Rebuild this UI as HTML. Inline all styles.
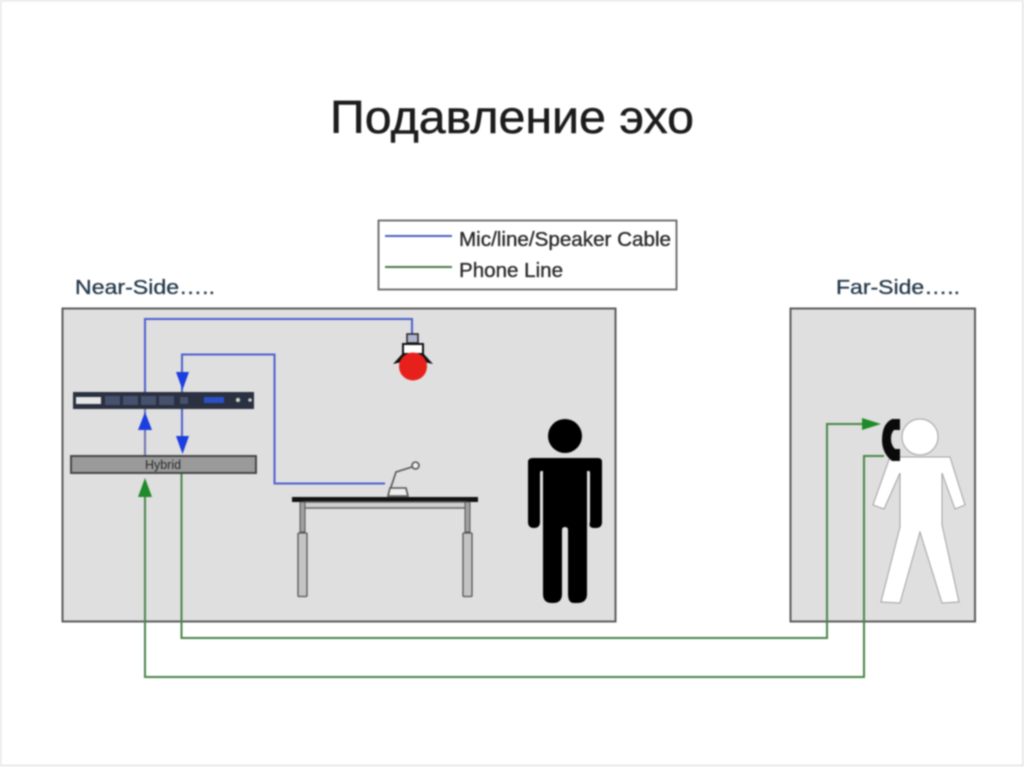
<!DOCTYPE html>
<html><head><meta charset="utf-8">
<style>
html,body{margin:0;padding:0;background:#fff;width:1024px;height:767px;overflow:hidden}
svg{display:block;filter:blur(0.7px)}
text{font-family:"Liberation Sans",sans-serif}
</style></head><body>
<svg width="1024" height="767" viewBox="0 0 1024 767" xmlns="http://www.w3.org/2000/svg">
<rect x="0" y="0" width="1024" height="767" fill="#fff"/>
<rect x="0.5" y="0.5" width="1022.5" height="765" fill="none" stroke="#e2e2e2" stroke-width="1.5"/>
<text x="330" y="133" font-size="46" textLength="364" lengthAdjust="spacingAndGlyphs" fill="#1c1c1c" stroke="#1c1c1c" stroke-width="0.5">Подавление эхо</text>

<!-- legend -->
<rect x="378.500" y="220.500" width="298" height="69" fill="#fff" stroke="#666" stroke-width="1.800"/>
<line x1="385" y1="236" x2="452" y2="236" stroke="#5060c0" stroke-width="2"/>
<line x1="385" y1="267" x2="452" y2="267" stroke="#4a7a4a" stroke-width="2"/>
<text x="459" y="246" font-size="20" textLength="212" lengthAdjust="spacingAndGlyphs" fill="#2a2a2a" stroke="#2a2a2a" stroke-width="0.35">Mic/line/Speaker Cable</text>
<text x="459" y="277" font-size="20" textLength="104" lengthAdjust="spacingAndGlyphs" fill="#2a2a2a" stroke="#2a2a2a" stroke-width="0.35">Phone Line</text>

<text x="75" y="294" font-size="20.500" textLength="140" lengthAdjust="spacingAndGlyphs" fill="#24394a" stroke="#24394a" stroke-width="0.3">Near-Side…..</text>
<text x="836" y="294" font-size="20.500" textLength="124" lengthAdjust="spacingAndGlyphs" fill="#24394a" stroke="#24394a" stroke-width="0.3">Far-Side…..</text>

<!-- rooms -->
<rect x="62.500" y="308.500" width="553" height="313" fill="#dfdfdf" stroke="#5c5c5c" stroke-width="2"/>
<rect x="790.500" y="308.500" width="184.500" height="313" fill="#dfdfdf" stroke="#5c5c5c" stroke-width="2"/>

<!-- blue cables -->
<g fill="none" stroke="#4c60cc" stroke-width="2">
<path d="M145 456V319H412V336"/>
<path d="M385 483.500H274.500V354.500H182V392"/>
<path d="M182 408V440"/>
<path d="M145 408V456" stroke="#6b74b0"/>
</g>
<!-- green cables -->
<g fill="none" stroke="#4a854a" stroke-width="2">
<path d="M181.500 474V638H827V424H866"/>
<path d="M145 492V677H864V456H884"/>
</g>

<!-- rack -->
<rect x="73" y="392" width="181" height="17" fill="#2a3140"/>
<rect x="76" y="397" width="25" height="7" fill="#e6e6e6"/>
<g fill="#46516e">
<rect x="105" y="396" width="15" height="9"/>
<rect x="123" y="396" width="15" height="9"/>
<rect x="141" y="396" width="15" height="9"/>
<rect x="159" y="396" width="15" height="9"/>
<rect x="180" y="397" width="8" height="7"/>
</g>
<rect x="204" y="397" width="20" height="6" fill="#2b50c8"/>
<circle cx="238" cy="400" r="2.200" fill="#ccc"/>
<circle cx="250" cy="400" r="1.800" fill="#ccc"/>

<!-- hybrid -->
<rect x="71" y="456" width="185" height="17" fill="#9a9a9a" stroke="#3c3c3c" stroke-width="1.800"/>
<text x="163" y="469" font-size="12.500" text-anchor="middle" fill="#2a2a2a">Hybrid</text>

<!-- arrowheads -->
<polygon points="176,372 189,372 182.500,390" fill="#1c3ee0"/>
<polygon points="176,436 189,436 182.500,454" fill="#1c3ee0"/>
<polygon points="145,412 138,430 152,430" fill="#1c3ee0"/>
<polygon points="145,478 138,497 152,497" fill="#1f8a2a"/>
<polygon points="881,424 862,418 862,430" fill="#1f8a2a"/>

<!-- speaker -->
<rect x="407" y="334" width="11" height="9" fill="#b0b4cc" stroke="#222" stroke-width="1.500"/>
<rect x="403" y="344" width="20" height="10" fill="#fff" stroke="#111" stroke-width="2"/>
<path d="M393 364L403 353H423L433 364L424 362H402Z" fill="#111"/>
<circle cx="413" cy="366.500" r="14" fill="#e8201c"/>

<!-- microphone -->
<g fill="none" stroke="#555" stroke-width="1.600">
<circle cx="415.500" cy="465.500" r="3.500" fill="#eee"/>
<path d="M412 467L396 472L391 487L388 496"/>
<path d="M388 496L390 488H406L408 496Z" fill="#eee"/>
</g>

<!-- table -->
<rect x="292" y="497" width="186" height="5" fill="#111"/>
<rect x="304" y="502" width="162" height="6" fill="#cfcfcf" stroke="#666" stroke-width="1.500"/>
<rect x="300" y="502" width="5" height="30" fill="#a0a0a0" stroke="#555" stroke-width="1"/>
<rect x="465" y="502" width="5" height="30" fill="#a0a0a0" stroke="#555" stroke-width="1"/>
<rect x="298" y="533" width="9" height="63.500" rx="1" fill="#c4c4c4" stroke="#555" stroke-width="1.300"/>
<rect x="463" y="533" width="9" height="63.500" rx="1" fill="#c4c4c4" stroke="#555" stroke-width="1.300"/>

<!-- black person -->
<circle cx="565" cy="436" r="17" fill="#000"/>
<path d="M533 458H598Q602 458 602 462V522Q602 528 596 528H594Q588 528 590 522V473Q590 471 589 471H587V594Q587 603 577 603H574Q568 603 568 594V530Q568 527 565 527Q562 527 562 530V594Q562 603 553 603H552Q543 603 543 594V471H541Q540 471 540 473V522Q540 528 534 528Q528 528 528 522V462Q528 458 533 458Z" fill="#000"/>

<!-- white person -->
<polygon points="890,457 950,457 965,505 955,509 942,473 942,525 959,602 942,603 920,532 900,603 881,602 900,527 900,473 884,509 873,505" fill="#fff" stroke="#a0a0a0" stroke-width="1"/>
<circle cx="920" cy="437" r="18" fill="#fff" stroke="#a0a0a0" stroke-width="1"/>

<!-- phone -->
<path d="M900 419H892Q882 424 882 440Q882 453 892 461H900V449H895Q891 445 891 439Q891 433 894 430H900Z" fill="#0a0a0a"/>
</svg>
</body></html>
